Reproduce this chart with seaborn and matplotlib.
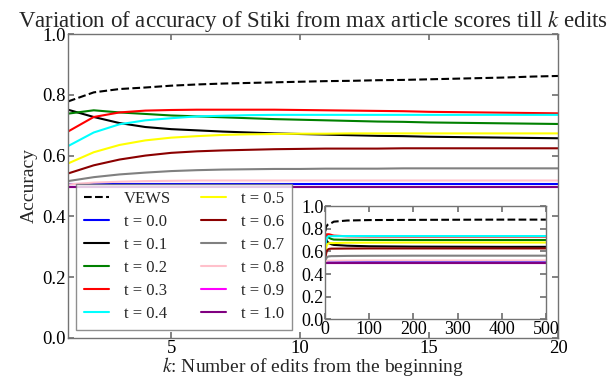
import matplotlib
matplotlib.use("Agg")
import matplotlib.pyplot as plt
import seaborn as sns
import numpy as np
import pandas as pd

# ---- data ----
k_main = list(range(1, 21))
k_tail = [50, 100, 200, 300, 400, 500]

labels = ["VEWS", "t = 0.0", "t = 0.1", "t = 0.2", "t = 0.3", "t = 0.4",
          "t = 0.5", "t = 0.6", "t = 0.7", "t = 0.8", "t = 0.9", "t = 1.0"]
colors = ["black", "blue", "black", "green", "red", "cyan",
          "yellow", "#8B0000", "#808080", "pink", "magenta", "purple"]

vews = [0.778, 0.808, 0.819, 0.824, 0.830, 0.834, 0.837, 0.839, 0.841, 0.843,
        0.845, 0.846, 0.848, 0.849, 0.851, 0.853, 0.855, 0.857, 0.860, 0.862]
t00 = [0.508] * 20
t01 = [0.751, 0.727, 0.707, 0.694, 0.687, 0.683, 0.679, 0.676, 0.673, 0.671,
       0.669, 0.667, 0.665, 0.664, 0.662, 0.661, 0.660, 0.659, 0.658, 0.657]
t02 = [0.738, 0.749, 0.742, 0.737, 0.732, 0.729, 0.726, 0.723, 0.720, 0.718,
       0.716, 0.714, 0.712, 0.711, 0.709, 0.708, 0.707, 0.706, 0.705, 0.704]
t03 = [0.679, 0.727, 0.742, 0.748, 0.750, 0.751, 0.751, 0.751, 0.751, 0.750,
       0.749, 0.748, 0.747, 0.746, 0.744, 0.743, 0.742, 0.741, 0.740, 0.739]
t04 = [0.631, 0.676, 0.703, 0.716, 0.723, 0.729, 0.731, 0.733, 0.734, 0.734,
       0.734, 0.734, 0.734, 0.734, 0.734, 0.734, 0.734, 0.734, 0.734, 0.734]
t05 = [0.574, 0.611, 0.635, 0.650, 0.659, 0.664, 0.668, 0.670, 0.671, 0.672,
       0.672, 0.673, 0.673, 0.673, 0.673, 0.673, 0.673, 0.673, 0.673, 0.673]
t06 = [0.541, 0.568, 0.587, 0.600, 0.609, 0.614, 0.617, 0.619, 0.621, 0.622,
       0.623, 0.623, 0.623, 0.624, 0.624, 0.624, 0.624, 0.624, 0.624, 0.624]
t07 = [0.516, 0.529, 0.538, 0.544, 0.549, 0.552, 0.554, 0.555, 0.556, 0.556,
       0.557, 0.557, 0.557, 0.558, 0.558, 0.558, 0.558, 0.558, 0.558, 0.558]
t08 = [0.505, 0.511, 0.514, 0.516, 0.517, 0.518, 0.518, 0.518, 0.518, 0.518,
       0.518, 0.518, 0.518, 0.518, 0.518, 0.518, 0.518, 0.518, 0.518, 0.518]
t09 = [0.498] * 20
t10 = [0.496] * 20

# long-run values (k = 50 .. 500)
vews_tail = [0.872, 0.876, 0.878, 0.879, 0.880, 0.880]
t00_tail = [0.508] * 6
t01_tail = [0.650, 0.645, 0.642, 0.641, 0.640, 0.640]
t02_tail = [0.702, 0.701, 0.700, 0.700, 0.700, 0.700]
t03_tail = [0.733, 0.731, 0.730, 0.730, 0.730, 0.730]
t04_tail = [0.735] * 6
t05_tail = [0.676, 0.677, 0.678, 0.678, 0.678, 0.678]
t06_tail = [0.625, 0.626, 0.626, 0.626, 0.626, 0.626]
t07_tail = [0.560, 0.561, 0.562, 0.562, 0.562, 0.562]
t08_tail = [0.519, 0.520, 0.520, 0.520, 0.520, 0.520]
t09_tail = [0.498] * 6
t10_tail = [0.496] * 6

main_series = [vews, t00, t01, t02, t03, t04, t05, t06, t07, t08, t09, t10]
tail_series = [vews_tail, t00_tail, t01_tail, t02_tail, t03_tail, t04_tail,
               t05_tail, t06_tail, t07_tail, t08_tail, t09_tail, t10_tail]

# ---- style ----
sns.set_theme(style="white")
plt.rcParams.update({
    "font.family": ["Liberation Serif", "DejaVu Serif"],
    "mathtext.fontset": "stix",
    "axes.edgecolor": "0.45",
    "axes.linewidth": 1.0,
    "xtick.direction": "in",
    "ytick.direction": "in",
    "xtick.top": True,
    "ytick.right": True,
    "xtick.bottom": True,
    "ytick.left": True,
    "xtick.color": "0.45",
    "ytick.color": "0.45",
    "xtick.labelcolor": "black",
    "ytick.labelcolor": "black",
    "xtick.major.size": 4,
    "ytick.major.size": 4,
})

fig = plt.figure(figsize=(6.12, 3.78), dpi=100)
ax = fig.add_axes([0.111, 0.106, 0.801, 0.804])

for lab, col, ys in zip(labels, colors, main_series):
    ls = "--" if lab == "VEWS" else "-"
    sns.lineplot(x=k_main, y=ys, color=col, linestyle=ls, linewidth=1.5,
                 label=lab, ax=ax)

ax.set_xlim(1, 20)
ax.set_ylim(0, 1.0)
ax.set_xticks([5, 10, 15, 20])
ax.set_yticks([0.0, 0.2, 0.4, 0.6, 0.8, 1.0])
ax.tick_params(labelsize=13.5, pad=1.5)
ax.set_title(r"Variation of accuracy of Stiki from max article scores till $k$ edits",
             fontsize=16.5, pad=4)
ax.set_xlabel(r"$k$: Number of edits from the beginning", fontsize=14, labelpad=-1.5)
ax.set_ylabel("Accuracy", fontsize=14, labelpad=3)

leg = ax.legend(loc="lower left", ncol=2, fontsize=12, fancybox=False,
                frameon=True, edgecolor="0.45", handlelength=1.5,
                handletextpad=0.9, columnspacing=1.8, labelspacing=0.42,
                borderaxespad=0.5, borderpad=0.45)
leg.get_frame().set_linewidth(1.0)

# ---- inset ----
axin = fig.add_axes([0.531, 0.155, 0.361, 0.300])
for lab, col, ys, ts in zip(labels, colors, main_series, tail_series):
    ls = "--" if lab == "VEWS" else "-"
    sns.lineplot(x=k_main + k_tail, y=ys + ts, color=col, linestyle=ls,
                 linewidth=1.5, ax=axin, legend=False)
axin.set_xlim(0, 500)
axin.set_ylim(0, 1.0)
axin.set_xticks([0, 100, 200, 300, 400, 500])
axin.set_yticks([0.0, 0.2, 0.4, 0.6, 0.8, 1.0])
axin.tick_params(labelsize=13, pad=1)
axin.set_xlabel("")
axin.set_ylabel("")

fig.savefig("out.png", dpi=100)
